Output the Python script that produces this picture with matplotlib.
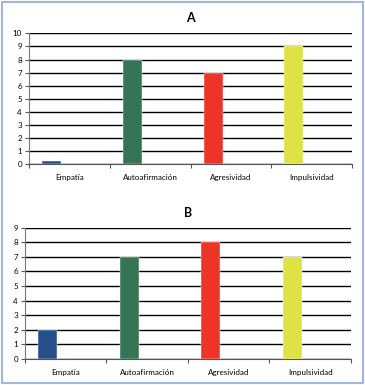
import matplotlib
matplotlib.use('Agg')
from matplotlib import pyplot as plt
from matplotlib.patches import Rectangle

categories = ['Empatía', 'Autoafirmación', 'Agresividad', 'Impulsividad']
values_a = [0.25, 8, 7, 9]
values_b = [2, 7, 8, 7]
colors = ['#264f8a', '#357556', '#ee3429', '#dee244']

plt.rcParams['font.family'] = ['Lato', 'DejaVu Sans']


def draw_panel(ax, title, values, ymax):
    x = range(len(categories))
    ax.bar([i - 0.22 for i in x], values, width=0.235, color=colors,
           edgecolor='#ffffff', linewidth=0.3, zorder=3)
    ax.set_xlim(-0.5, len(categories) - 0.5)
    ax.set_ylim(0, ymax)
    ax.set_yticks(range(0, ymax + 1))
    ax.yaxis.grid(True, color='black', linewidth=1.0, zorder=0)
    ax.set_axisbelow(True)
    ax.set_xticks(list(x))
    ax.set_xticklabels(categories, fontsize=5.8)
    ax.set_xticks([i - 0.5 for i in range(len(categories) + 1)], minor=True)
    ax.tick_params(axis='x', which='major', length=0, pad=7)
    ax.tick_params(axis='x', which='minor', length=3, width=0.8, color='#555555')
    ax.tick_params(axis='y', length=3, width=0.8, color='#555555', labelsize=5.8, pad=2)
    for s in ['top', 'right']:
        ax.spines[s].set_visible(False)
    ax.spines['left'].set_color('#777777')
    ax.spines['bottom'].set_color('#555555')
    ax.spines['left'].set_linewidth(0.8)
    ax.spines['bottom'].set_linewidth(0.8)
    ax.set_title(title, fontsize=9, fontweight='bold', pad=8)


fig = plt.figure(figsize=(3.65, 3.85), dpi=100)
ax_a = fig.add_axes([0.0795, 0.5732, 0.885, 0.3403])
ax_b = fig.add_axes([0.0685, 0.0675, 0.893, 0.341])
draw_panel(ax_a, 'A', values_a, 10)
draw_panel(ax_b, 'B', values_b, 9)

# light blue frame around the whole picture
fig.patches.append(Rectangle((0.006, 0.005), 0.988, 0.99, transform=fig.transFigure,
                             fill=False, edgecolor='#a3b7de', linewidth=1.5))

fig.savefig('out.png', dpi=100)
